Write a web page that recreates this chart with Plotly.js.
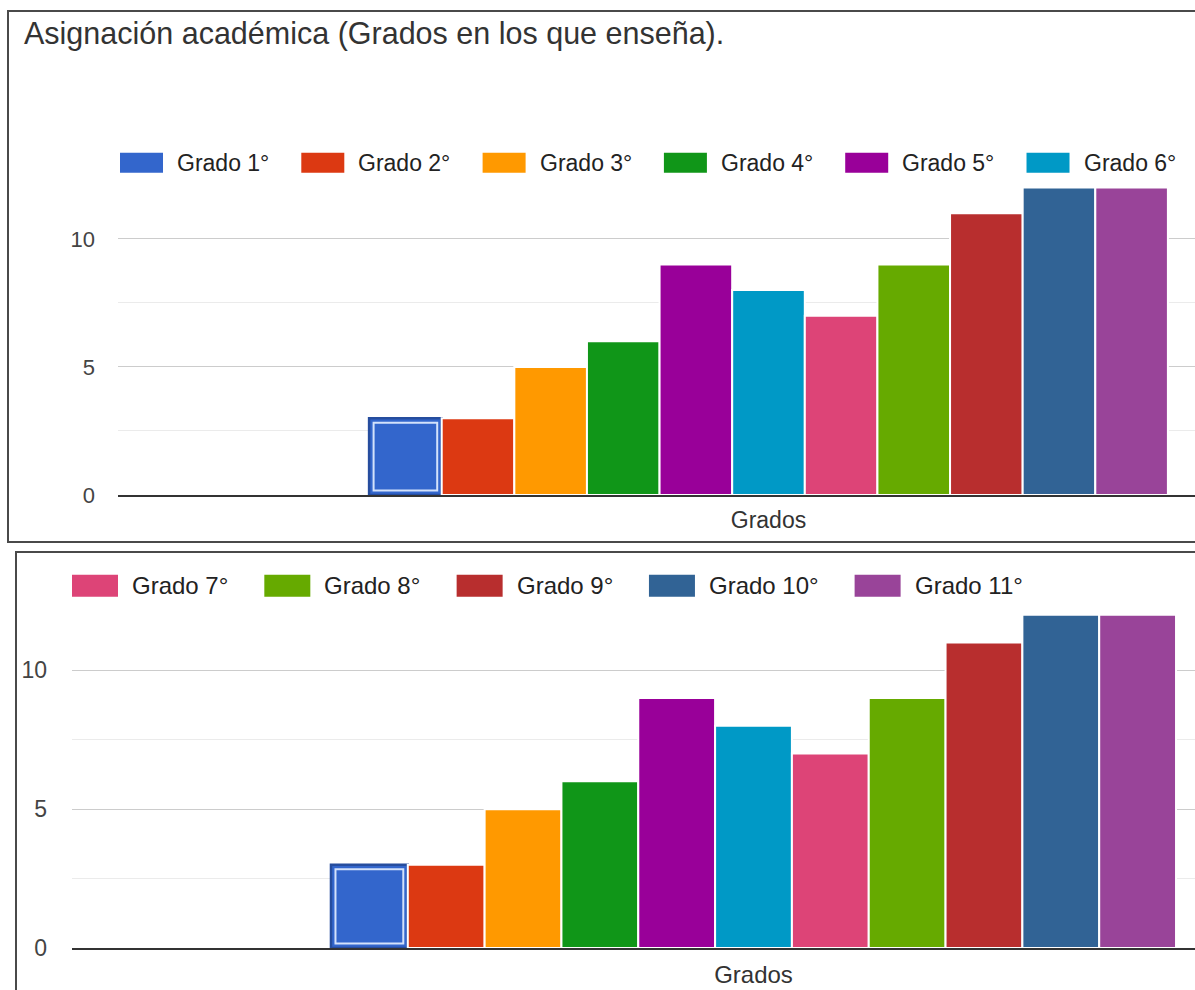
<!DOCTYPE html>
<html>
<head>
<meta charset="utf-8">
<script src="https://cdn.plot.ly/plotly-3.0.1.min.js"></script>
<style>
  html, body { margin: 0; padding: 0; background: #fff; overflow: hidden; width: 1195px; height: 990px; }
  .plot { position: absolute; left: 0; }
  .frame { position: absolute; box-sizing: border-box; border: 2px solid #4a4a4a; border-right: none; pointer-events: none; }
</style>
</head>
<body>
<div id="panelTop" class="plot" style="top:0px;width:1195px;height:541px"></div>
<div id="panelBottom" class="plot" style="top:552px;width:1195px;height:438px"></div>
<div class="frame" style="left:7px;top:10px;width:1200px;height:533px"></div>
<div class="frame" style="left:15px;top:551px;width:1200px;height:460px;border-bottom:none"></div>
<script>
// Survey answers: number of teachers per grade taught
const grados = ['Grado 1°', 'Grado 2°', 'Grado 3°', 'Grado 4°', 'Grado 5°', 'Grado 6°',
                'Grado 7°', 'Grado 8°', 'Grado 9°', 'Grado 10°', 'Grado 11°'];
const docentes = [3, 3, 5, 6, 9, 8, 7, 9, 11, 12, 12];
const colores = ['#3366cc', '#dc3912', '#ff9900', '#109618', '#990099', '#0099c6',
                 '#dd4477', '#66aa00', '#b82e2e', '#316395', '#994499'];
const categoria = ['Grados'];
const yTicks = [0, 5, 10];
const yTickText = ['0', '5', '10'];
const titulo = 'Asignación académica (Grados en los que enseña).';

const FONT = '"Liberation Sans", Arial, Helvetica, sans-serif';
const PAGE_W = 1195;

// Two views of the same chart: the first legend page (grades 1-6) and the second (7-11)
const paneles = [
  { id: 'panelTop', height: 541, plotLeft: 118, zeroY: 495, pxY: 25.6,
    catPx: 1301, groupFrac: 0.614, yMax: 12.53,
    legend: { from: 0, to: 6, x: 120, y: 163, sw: 43, sh: 20, gap: 12, spacing: 34, size: 23 },
    tickSize: 22, yStandoff: 22, xStandoff: 3, xTickSize: 23, showTitle: true },
  { id: 'panelBottom', height: 438, plotLeft: 72, zeroY: 396, pxY: 27.8,
    catPx: 1363, groupFrac: 0.62, yMax: 12.53,
    legend: { from: 6, to: 11, x: 72, y: 33.5, sw: 46, sh: 22, gap: 12, spacing: 38, size: 24 },
    tickSize: 23, yStandoff: 24, xStandoff: 4, xTickSize: 24, showTitle: false }
];

const measureCtx = document.createElement('canvas').getContext('2d');
function textWidth(txt, size) {
  measureCtx.font = size + 'px "Liberation Sans", Arial, sans-serif';
  return measureCtx.measureText(txt).width;
}

function dibujar(p) {
  const plotW = PAGE_W - p.plotLeft;
  const plotH = p.yMax * p.pxY;
  const plotTop = p.zeroY - plotH;
  const G = p.groupFrac;
  const n = docentes.length;
  const ancho = G / n;
  const pxX = p.catPx;           // pixels per category unit

  const traces = grados.map((g, i) => ({
    type: 'bar',
    name: g,
    x: categoria,
    y: [docentes[i]],
    offset: -G / 2 + i * ancho,
    width: ancho,
    marker: {
      color: colores[i],
      line: { color: i === 0 ? '#264d9e' : '#ffffff', width: i === 0 ? 2.5 : 2 }
    },
    hovertemplate: g + ': %{y}<extra></extra>'
  }));

  // inner light outline of the selected first series
  const dx = 4.5 / pxX, dy = 4.5 / p.pxY;
  traces.push({
    type: 'bar',
    x: categoria,
    y: [docentes[0] - 2 * dy],
    base: dy,
    offset: -G / 2 + dx,
    width: ancho - 2 * dx,
    marker: { color: 'rgba(0,0,0,0)', line: { color: '#d4e2fb', width: 2 } },
    hoverinfo: 'skip',
    showlegend: false
  });

  // legend built as swatches + labels
  const px2paperX = px => (px - p.plotLeft) / plotW;
  const px2paperY = py => (p.zeroY - py) / plotH;
  const shapes = [], annotations = [];
  let cx = p.legend.x;
  for (let i = p.legend.from; i < p.legend.to; i++) {
    const L = p.legend;
    shapes.push({
      type: 'rect', xref: 'paper', yref: 'paper', layer: 'above',
      x0: px2paperX(cx), x1: px2paperX(cx + L.sw),
      y0: px2paperY(L.y + L.sh / 2), y1: px2paperY(L.y - L.sh / 2),
      fillcolor: colores[i], line: { width: 0 }
    });
    annotations.push({
      xref: 'paper', yref: 'paper', x: px2paperX(cx + L.sw + L.gap), y: px2paperY(L.y),
      xanchor: 'left', yanchor: 'middle', showarrow: false,
      text: grados[i], font: { family: FONT, size: L.size, color: '#222222' }
    });
    cx += L.sw + L.gap + textWidth(grados[i], L.size) + L.spacing;
  }

  const layout = {
    width: PAGE_W, height: p.height,
    margin: { l: p.plotLeft, r: 0, t: plotTop, b: p.height - p.zeroY, pad: 0 },
    paper_bgcolor: 'rgba(0,0,0,0)', plot_bgcolor: 'rgba(0,0,0,0)',
    barmode: 'overlay', showlegend: false,
    font: { family: FONT, color: '#444444' },
    xaxis: {
      type: 'category', range: [-0.5, -0.5 + plotW / pxX],
      showgrid: false, zeroline: false, showline: true, linecolor: '#333333', linewidth: 2,
      layer: 'above traces', ticks: '', ticklabelstandoff: p.xStandoff,
      tickfont: { family: FONT, size: p.xTickSize, color: '#333333' }, fixedrange: true
    },
    yaxis: {
      range: [0, p.yMax], tickmode: 'array', tickvals: yTicks, ticktext: yTickText,
      showgrid: true, gridcolor: '#cccccc', gridwidth: 1,
      minor: { tickmode: 'linear', tick0: 0, dtick: 2.5, showgrid: true, gridcolor: '#ebebeb', gridwidth: 1, ticks: '' },
      zeroline: false, showline: false, ticks: '', ticklabelstandoff: p.yStandoff,
      tickfont: { family: FONT, size: p.tickSize, color: '#444444' }, fixedrange: true
    },
    shapes: shapes,
    annotations: annotations
  };
  if (p.showTitle) {
    layout.title = {
      text: titulo, xref: 'container', yref: 'container',
      x: 24 / PAGE_W, xanchor: 'left', y: 1 - 33 / p.height, yanchor: 'middle',
      font: { family: FONT, size: 30.5, color: '#333333' }
    };
  }
  Plotly.newPlot(p.id, traces, layout, { staticPlot: true, displayModeBar: false });
}

paneles.forEach(dibujar);
</script>
</body>
</html>
